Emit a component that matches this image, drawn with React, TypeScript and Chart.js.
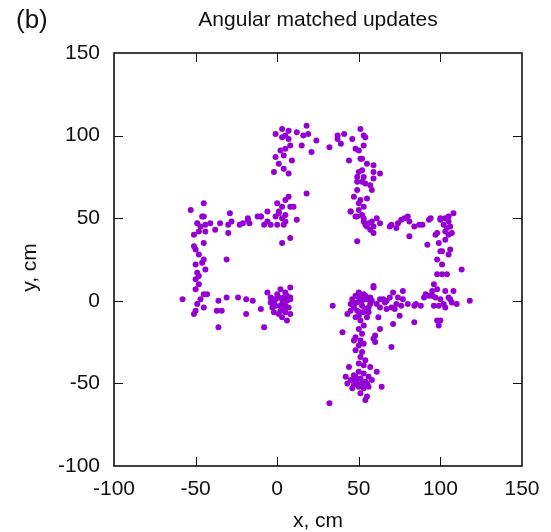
import { useEffect, useRef } from 'react';
import { Chart, registerables } from 'chart.js';

Chart.register(...registerables);

type P = [number, number];

const chartTitle = 'Angular matched updates';
const panelLabel = '(b)';
const xAxisTitle = 'x, cm';
const yAxisTitle = 'y, cm';
const axisMin = -100;
const axisMax = 150;
const tickStep = 50;

const topBar: P[] = [
  [3, 104], [7, 103], [18, 106], [-1, 101], [5, 100], [3, 99], [7, 98], [12, 102], [16, 100], [19, 101],
  [24, 97], [21, 90], [15, 94], [8, 94], [2, 91], [5, 92], [32, 93], [37, 100], [41, 101], [46, 98],
  [39, 95], [51, 104], [54, 99], [53, 94], [48, 92], [50, 91], [44, 85], [52, 86], [55, 83], [37, 98],
  [53, 100], [51, 86],
];

const upperLeftEdge: P[] = [
  [-1, 87], [4, 88], [9, 85], [1, 83], [-2, 78], [4, 80], [7, 77], [18, 65], [7, 63], [5, 61],
  [0, 59], [8, 57], [10, 57], [3, 57], [3, 35], [8, 38],
];

const upperRightEdge: P[] = [
  [59, 82], [59, 78], [63, 77], [52, 79], [50, 78], [49, 75], [53, 75], [59, 74], [49, 72], [52, 72],
  [54, 71], [57, 70], [49, 67], [58, 67], [47, 63], [51, 61], [55, 62], [50, 59], [53, 57], [45, 54],
  [50, 55], [49, 51], [53, 50],
];

const leftArmTop: P[] = [
  [-45, 59], [-53, 55], [-29, 53], [-46, 51], [-18, 50], [-45, 51], [-49, 47], [-47, 45], [-44, 46], [-41, 47],
  [-48, 42], [-44, 42], [-35, 47], [-38, 43], [-30, 46], [-28, 48], [-23, 46], [-21, 47], [-17, 47], [-18, 49],
  [-12, 51], [-10, 51], [-6, 48], [-4, 46], [-8, 46], [-1, 51], [1, 53], [3, 50], [0, 46], [4, 46],
  [5, 48], [12, 49], [-30, 41], [-51, 40], [-6, 54], [-10, 51], [1, 54], [5, 52],
];

const leftArmSide: P[] = [
  [-51, 33], [-50, 31], [-45, 35], [-48, 28], [-45, 25], [-50, 22], [-46, 23], [-49, 17], [-44, 19], [-48, 15],
  [-50, 13], [-48, 10], [-50, 7], [-45, 4], [-43, 4], [-47, 1], [-49, -2], [-45, -4], [-50, -6], [-51, -8],
  [-31, 25],
];

const leftArmBottom: P[] = [
  [-58, 1], [-36, 0], [-31, 2], [-37, -6], [-34, -6], [-24, 2], [-19, 1], [-15, 0], [-10, -5], [-19, -8],
  [-36, -16], [-8, -16],
];

const originCluster: P[] = [
  [-6, 5], [-4, 2], [-2, 1], [1, 2], [2, 7], [5, 5], [8, 8], [8, 2], [6, 0], [3, -2],
  [-1, -3], [4, -4], [7, -4], [-3, -4], [-2, -7], [2, -6], [5, -7], [3, -10], [6, -12], [8, -8],
  [8, 1], [-1, 1], [4, 2], [-2, -1], [2, -3], [5, -3], [0, 4], [6, 3], [3, 1], [-4, -1], [1, -8],
];

const rightArmTop: P[] = [
  [45, 54], [48, 51], [52, 52], [53, 48], [54, 46], [56, 47], [58, 48], [59, 45], [59, 41], [63, 47],
  [57, 43], [49, 36], [69, 45], [70, 46], [74, 47], [76, 49], [80, 51], [81, 48], [84, 45], [87, 46],
  [89, 46], [93, 49], [73, 44], [81, 39], [94, 50], [100, 50], [100, 49], [103, 50], [105, 48], [105, 51],
  [108, 53], [102, 46], [104, 44], [106, 45], [55, 45], [61, 50], [78, 50],
];

const rightArmSide: P[] = [
  [103, 42], [105, 40], [107, 41], [98, 41], [97, 40], [103, 37], [99, 35], [92, 34], [106, 31], [101, 30],
  [98, 25], [101, 22], [113, 19], [98, 16], [101, 16], [104, 16], [105, 28], [100, 30], [96, 10], [95, 6],
  [98, 7], [103, 6], [108, 6],
];

const rightArmBottom: P[] = [
  [93, 3], [97, 2], [100, 1], [105, 2], [107, -1], [102, -2], [99, -3], [103, -4], [96, -3], [118, 0],
  [88, -3], [84, -3], [90, 2], [100, -12], [99, -15], [84, -13], [75, -9], [77, 6], [71, 5], [69, 2],
  [74, 2], [76, -3], [70, -4], [66, -1], [63, 1], [63, -4], [61, -2], [58, 0], [59, 8], [80, -2],
  [62, -10], [34, -3], [65, 1], [67, 0], [73, -2], [77, 1], [85, -2], [91, 4], [95, 3], [106, 1],
  [110, -2], [71, -14], [63, -17], [67, -5], [72, -5], [98, -12],
];

const stem: P[] = [
  [59, 9], [50, 5], [48, 3], [53, 4], [51, 1], [55, 1], [47, -2], [52, -3], [57, -2], [45, -6],
  [49, -6], [54, -5], [56, -7], [43, -8], [50, -9], [55, -10], [51, -12], [53, -15], [50, -17], [52, -20],
  [48, -22], [47, -24], [51, -24], [53, -26], [50, -27], [59, -23], [60, -25], [48, -30], [52, -31], [51, -34],
  [54, -36], [50, -38], [53, -39], [44, -40], [57, -40], [40, -19], [60, -21], [70, -28], [46, 1], [49, -1],
  [52, 0], [54, 3], [56, -4], [47, -4], [50, 2], [53, -7], [48, -10], [51, -7], [45, -2], [57, 2],
];

const stemBase: P[] = [
  [47, -45], [50, -43], [53, -44], [56, -46], [45, -48], [48, -48], [51, -47], [54, -49], [58, -48], [42, -46],
  [43, -50], [47, -51], [50, -52], [53, -53], [56, -52], [64, -52], [51, -56], [55, -58], [54, -60], [61, -43],
  [49, -50], [52, -50], [46, -53], [48, -46], [55, -50],
];

const outliers: P[] = [[32, -62]];

const FONT = '"Liberation Sans", Arial, Helvetica, sans-serif';
const INK = '#111111';
const POINT_COLOR = '#9400D3';

const framePlugin = {
  id: 'gnuplotFrame',
  afterDraw(chart: any) {
    const { ctx, chartArea: a, scales } = chart;
    const xs = scales.x;
    const ys = scales.y;
    ctx.save();
    ctx.strokeStyle = INK;
    ctx.lineWidth = 1;
    const tl = 9;
    xs.ticks.forEach((t: any) => {
      const px = Math.round(xs.getPixelForValue(t.value)) + 0.5;
      if (px <= a.left + 1 || px >= a.right - 1) return;
      ctx.beginPath();
      ctx.moveTo(px, a.bottom);
      ctx.lineTo(px, a.bottom - tl);
      ctx.moveTo(px, a.top);
      ctx.lineTo(px, a.top + tl);
      ctx.stroke();
    });
    ys.ticks.forEach((t: any) => {
      const py = Math.round(ys.getPixelForValue(t.value)) + 0.5;
      if (py <= a.top + 1 || py >= a.bottom - 1) return;
      ctx.beginPath();
      ctx.moveTo(a.left, py);
      ctx.lineTo(a.left + tl, py);
      ctx.moveTo(a.right, py);
      ctx.lineTo(a.right - tl, py);
      ctx.stroke();
    });
    ctx.lineWidth = 1.6;
    ctx.strokeRect(a.left, a.top, a.right - a.left, a.bottom - a.top);

    ctx.fillStyle = INK;
    ctx.textBaseline = 'alphabetic';
    ctx.font = `21px ${FONT}`;
    ctx.textAlign = 'center';
    ctx.fillText(chartTitle, (a.left + a.right) / 2, 26);
    ctx.fillText(xAxisTitle, (a.left + a.right) / 2, 527);
    ctx.save();
    ctx.translate(36, (a.top + a.bottom) / 2 + 8);
    ctx.rotate(-Math.PI / 2);
    ctx.fillText(yAxisTitle, 0, 0);
    ctx.restore();
    ctx.font = `26px ${FONT}`;
    ctx.textAlign = 'left';
    ctx.fillText(panelLabel, 16, 28);
    ctx.restore();
  },
};

export default function App() {
  const ref = useRef<HTMLCanvasElement | null>(null);
  useEffect(() => {
    if (!ref.current) return;
    const points = [
      ...topBar, ...upperLeftEdge, ...upperRightEdge, ...leftArmTop, ...leftArmSide, ...leftArmBottom,
      ...originCluster, ...rightArmTop, ...rightArmSide, ...rightArmBottom, ...stem, ...stemBase, ...outliers,
    ].map(([x, y]) => ({ x, y }));
    const tickFont = { family: FONT, size: 21 };
    const chart = new Chart(ref.current, {
      type: 'scatter',
      data: {
        datasets: [
          {
            data: points,
            backgroundColor: POINT_COLOR,
            borderColor: POINT_COLOR,
            borderWidth: 0,
            pointRadius: 3,
            pointHoverRadius: 3,
          },
        ],
      },
      options: {
        animation: false,
        responsive: true,
        maintainAspectRatio: false,
        layout: { padding: { top: 53, right: 29, left: 0, bottom: 0 } },
        plugins: { legend: { display: false }, tooltip: { enabled: false }, title: { display: false } },
        scales: {
          x: {
            type: 'linear',
            min: axisMin,
            max: axisMax,
            ticks: { stepSize: tickStep, padding: 11, font: tickFont, color: INK, maxRotation: 0 },
            grid: { display: false, drawTicks: false },
            border: { display: false },
            afterFit: (s: any) => { s.height = 66; },
          },
          y: {
            type: 'linear',
            min: axisMin,
            max: axisMax,
            ticks: { stepSize: tickStep, padding: 14, font: tickFont, color: INK },
            grid: { display: false, drawTicks: false },
            border: { display: false },
            afterFit: (s: any) => { s.width = 114; },
          },
        },
      },
      plugins: [framePlugin],
    });
    return () => chart.destroy();
  }, []);
  return (
    <div style={{ position: 'fixed', left: 0, top: 0, width: 551, height: 532, background: '#fff' }}>
      <canvas ref={ref} />
    </div>
  );
}
